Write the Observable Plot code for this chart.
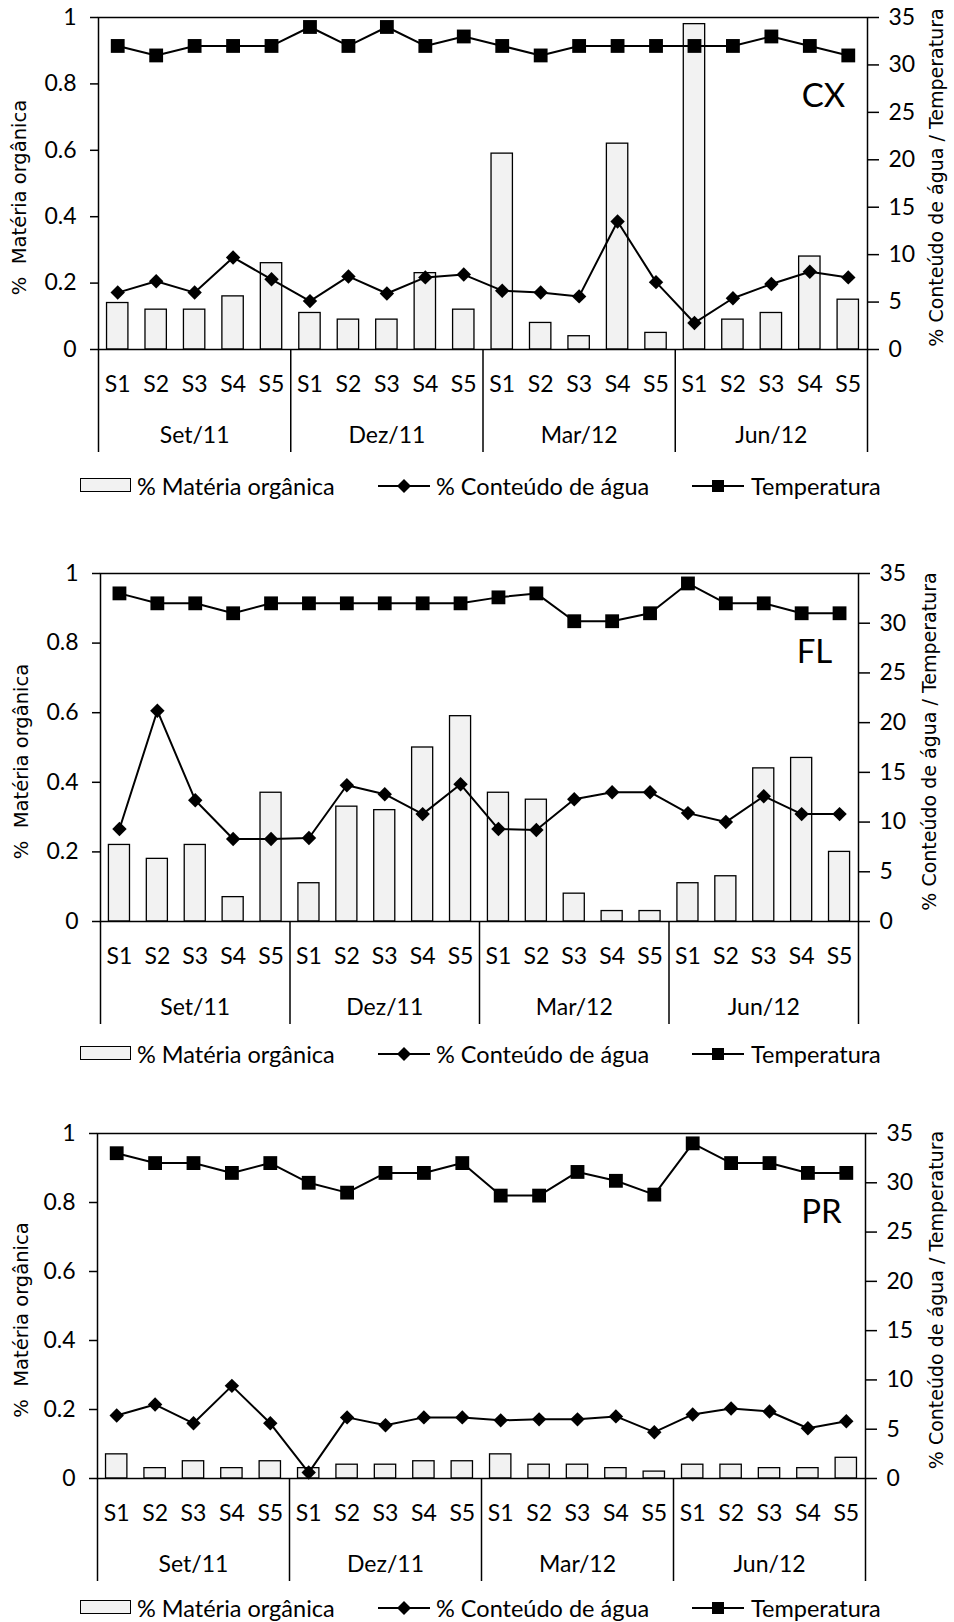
<!DOCTYPE html>
<html>
<head>
<meta charset="utf-8">
<script src="https://cdn.jsdelivr.net/npm/d3@7"></script>
<script src="https://cdn.jsdelivr.net/npm/@observablehq/plot@0.6"></script>
<style>
html, body { margin: 0; padding: 0; background: #fff; overflow: hidden; }
#root { position: relative; width: 954px; height: 1622px; font-family: Lato, sans-serif; color: #000; }
.panel { position: absolute; left: 0; width: 954px; }
.panel svg { display: block; overflow: visible; }
.legend { position: absolute; left: 0; width: 954px; height: 30px; font-size: 23.5px; }
.legend > * { position: absolute; }
.legend .lbl { top: 0; line-height: 30px; white-space: pre; }
</style>
</head>
<body>
<div id="root"></div>
<script>
// ---- categories and tick labels ----
const months = ["Set/11", "Dez/11", "Mar/12", "Jun/12"];
const sites = ["S1", "S2", "S3", "S4", "S5"];
const leftTicks = [0, 0.2, 0.4, 0.6, 0.8, 1];
const rightTicks = [0, 5, 10, 15, 20, 25, 30, 35];
const rightMax = 35;
const seriesNames = ["% Matéria orgânica", "% Conteúdo de água", "Temperatura"];
const leftTitle = "%  Matéria orgânica";
const rightTitle = "% Conteúdo de água / Temperatura";
const panelLabels = ["CX", "FL", "PR"];

// ---- CX ----
const cxMateria = [0.14, 0.12, 0.12, 0.16, 0.26, 0.11, 0.09, 0.09, 0.23, 0.12, 0.59, 0.08, 0.04, 0.62, 0.05, 0.98, 0.09, 0.11, 0.28, 0.15];
const cxAgua = [6.0, 7.2, 6.0, 9.7, 7.4, 5.1, 7.7, 5.9, 7.6, 7.9, 6.2, 6.0, 5.6, 13.5, 7.1, 2.8, 5.4, 6.9, 8.2, 7.6];
const cxTemp = [32, 31, 32, 32, 32, 34, 32, 34, 32, 33, 32, 31, 32, 32, 32, 32, 32, 33, 32, 31];

// ---- FL ----
const flMateria = [0.22, 0.18, 0.22, 0.07, 0.37, 0.11, 0.33, 0.32, 0.50, 0.59, 0.37, 0.35, 0.08, 0.03, 0.03, 0.11, 0.13, 0.44, 0.47, 0.20];
const flAgua = [9.3, 21.2, 12.2, 8.3, 8.3, 8.4, 13.7, 12.8, 10.8, 13.8, 9.3, 9.2, 12.3, 13.0, 13.0, 10.9, 10.0, 12.6, 10.8, 10.8];
const flTemp = [33, 32, 32, 31, 32, 32, 32, 32, 32, 32, 32.6, 33, 30.2, 30.2, 31, 34, 32, 32, 31, 31];

// ---- PR ----
const prMateria = [0.07, 0.03, 0.05, 0.03, 0.05, 0.03, 0.04, 0.04, 0.05, 0.05, 0.07, 0.04, 0.04, 0.03, 0.02, 0.04, 0.04, 0.03, 0.03, 0.06];
const prAgua = [6.4, 7.5, 5.6, 9.4, 5.6, 0.6, 6.2, 5.4, 6.2, 6.2, 5.9, 6.0, 6.0, 6.3, 4.7, 6.5, 7.1, 6.8, 5.1, 5.8];
const prTemp = [33, 32, 32, 31, 32, 30, 29, 31, 31, 32, 28.7, 28.7, 31.1, 30.2, 28.8, 34, 32, 32, 31, 31];

// ---- layout (pixels) ----
const panels = [
  {label: panelLabels[0], materia: cxMateria, agua: cxAgua, temp: cxTemp,
   top: 0, mt: 17, ph: 332, mb: 116, ml: 98, mr: 87, legendY: 486, ltx: -79, rtx: 69},
  {label: panelLabels[1], materia: flMateria, agua: flAgua, temp: flTemp,
   top: 540, mt: 33, ph: 348, mb: 119, ml: 100, mr: 96, legendY: 1054, ltx: -79, rtx: 71},
  {label: panelLabels[2], materia: prMateria, agua: prAgua, temp: prTemp,
   top: 1100, mt: 33, ph: 345, mb: 114, ml: 97, mr: 89, legendY: 1608, ltx: -76, rtx: 71}
];

const keys = months.flatMap(m => sites.map(s => m + "|" + s));
const fmt = d3.format("~g");
const root = document.getElementById("root");

function makePanel(p) {
  const rows = keys.map((k, i) => ({key: k, materia: p.materia[i], agua: p.agua[i], temp: p.temp[i]}));
  const plotW = 954 - p.ml - p.mr;
  const bw = plotW / keys.length;
  const height = p.mt + p.ph + p.mb;
  const svg = Plot.plot({
    width: 954,
    height,
    marginTop: p.mt, marginBottom: p.mb, marginLeft: p.ml, marginRight: p.mr,
    style: {fontFamily: "Lato, sans-serif", fontSize: "23px", color: "#000", background: "transparent", overflow: "visible"},
    x: {domain: keys, padding: 0, round: false},
    y: {domain: [0, 1]},
    marks: [
      Plot.barY(rows, {x: "key", y: "materia", fill: "#f2f2f2", stroke: "#000", strokeWidth: 1.3,
        insetLeft: bw * 0.222, insetRight: bw * 0.222}),
      Plot.frame({stroke: "#000", strokeWidth: 1.5}),
      Plot.axisY({anchor: "left", ticks: leftTicks, tickSize: 8, tickPadding: 14,
        tickFormat: d => fmt(d), label: null, strokeWidth: 1.5}),
      Plot.axisY({anchor: "right", ticks: rightTicks.map(t => t / rightMax), tickSize: 11, tickPadding: 10,
        tickFormat: d => fmt(Math.round(d * rightMax)), label: null, strokeWidth: 1.5}),
      Plot.axisX({anchor: "bottom", tickSize: 0, tickPadding: 26, tickFormat: d => d.split("|")[1], label: null}),
      Plot.text(months, {x: m => m + "|S3", text: m => m, frameAnchor: "bottom", dy: 86, lineAnchor: "middle"}),
      Plot.ruleX(months, {x: m => m + "|S1", dx: -bw / 2, insetTop: p.ph, insetBottom: -103, stroke: "#000", strokeWidth: 1.5}),
      Plot.ruleX([keys[keys.length - 1]], {x: d => d, dx: bw / 2, insetTop: p.ph, insetBottom: -103, stroke: "#000", strokeWidth: 1.5}),
      Plot.line(rows, {x: "key", y: d => d.agua / rightMax, stroke: "#000", strokeWidth: 2}),
      Plot.dot(rows, {x: "key", y: d => d.agua / rightMax, symbol: "diamond2", r: 6.5, fill: "#000", stroke: "none"}),
      Plot.line(rows, {x: "key", y: d => d.temp / rightMax, stroke: "#000", strokeWidth: 2}),
      Plot.dot(rows, {x: "key", y: d => d.temp / rightMax, symbol: "square", r: 7.8, fill: "#000", stroke: "none"}),
      Plot.text([p.label], {frameAnchor: "top-right", dx: -44, dy: 79, fontSize: 33, textAnchor: "middle", lineAnchor: "middle"}),
      Plot.text([leftTitle], {frameAnchor: "left", rotate: -90, dx: p.ltx, dy: 14, fontFamily: "DejaVu Sans", fontSize: 19.5,
        textAnchor: "middle", lineAnchor: "middle"}),
      Plot.text([rightTitle], {frameAnchor: "right", rotate: -90, dx: p.rtx, dy: -6, fontFamily: "DejaVu Sans", fontSize: 19,
        textAnchor: "middle", lineAnchor: "middle"})
    ]
  });
  const wrap = document.createElement("div");
  wrap.className = "panel";
  wrap.style.top = p.top + "px";
  wrap.appendChild(svg);
  root.appendChild(wrap);

  const lg = document.createElement("div");
  lg.className = "legend";
  lg.style.top = (p.legendY - 15) + "px";
  lg.innerHTML =
    `<div style="left:80px;top:7px;width:49px;height:12px;background:#f2f2f2;border:1.5px solid #000"></div>` +
    `<div class="lbl" style="left:137px">${seriesNames[0]}</div>` +
    `<svg style="left:378px;top:0" width="52" height="30"><line x1="0" x2="52" y1="15" y2="15" stroke="#000" stroke-width="2"/><path d="M26,8L33,15L26,22L19,15Z" fill="#000"/></svg>` +
    `<div class="lbl" style="left:436px">${seriesNames[1]}</div>` +
    `<svg style="left:692px;top:0" width="52" height="30"><line x1="0" x2="52" y1="15" y2="15" stroke="#000" stroke-width="2"/><rect x="20" y="9" width="12" height="12" fill="#000"/></svg>` +
    `<div class="lbl" style="left:751px">${seriesNames[2]}</div>`;
  root.appendChild(lg);
}

panels.forEach(makePanel);
</script>
</body>
</html>
